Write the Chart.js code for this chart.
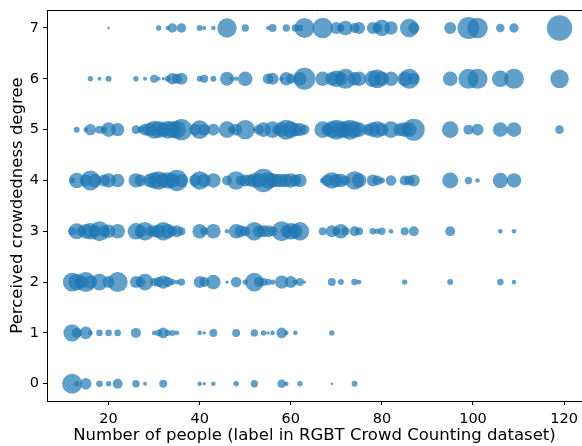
<!DOCTYPE html>
<html>
<head>
<meta charset="utf-8">
<script src="https://cdn.jsdelivr.net/npm/chart.js@4/dist/chart.umd.min.js"></script>
<style>
  body { margin: 0; background: #fff; }
  canvas { display: block; }
</style>
</head>
<body>
<canvas id="crowdChart" width="582" height="446"></canvas>
<script>
// Nivel de aglomeracion percibido (eje y)
const degrees = [0, 1, 2, 3, 4, 5, 6, 7];

// Numero de personas por cada nivel (una lista por nivel)
const people = [
    [12, 13, 15, 18, 20, 22, 26, 28, 32, 40, 41, 43, 48, 52, 58, 59, 62, 69, 74],
    [12, 13, 15, 16, 18, 20, 22, 26, 30, 31, 32, 33, 34, 35, 40, 41, 43, 48, 52, 54, 55, 56, 58, 59, 61, 69],
    [12, 13, 14, 15, 16, 18, 20, 22, 26, 27, 28, 30, 31, 32, 33, 34, 35, 36, 40, 41, 43, 46, 48, 50, 52, 53, 54, 55, 56, 58, 60, 61, 62, 63, 69, 71, 74, 75, 85, 95, 106, 109],
    [12, 13, 14, 15, 16, 17, 18, 19, 20, 22, 26, 27, 28, 29, 30, 31, 32, 33, 34, 35, 36, 40, 41, 43, 46, 48, 49, 50, 52, 53, 54, 55, 56, 58, 59, 60, 61, 62, 67, 69, 70, 71, 72, 74, 75, 78, 79, 80, 82, 85, 87, 95, 106, 109],
    [12, 13, 15, 16, 17, 19, 20, 22, 26, 27, 29, 30, 31, 32, 33, 34, 35, 36, 39, 40, 41, 43, 46, 48, 49, 50, 51, 52, 53, 54, 55, 56, 57, 58, 59, 60, 61, 62, 67, 68, 69, 70, 71, 72, 74, 75, 78, 79, 80, 82, 85, 86, 87, 95, 99, 101, 106, 109],
    [13, 15, 16, 18, 19, 20, 22, 26, 27, 28, 29, 30, 31, 32, 33, 34, 35, 36, 39, 40, 41, 43, 46, 47, 48, 50, 52, 53, 54, 56, 57, 58, 59, 60, 61, 62, 63, 67, 68, 69, 70, 71, 72, 73, 74, 75, 77, 78, 79, 80, 82, 84, 85, 86, 87, 95, 99, 101, 106, 109, 119],
    [16, 18, 20, 26, 28, 30, 31, 32, 33, 34, 35, 36, 40, 41, 43, 46, 47, 48, 50, 55, 56, 58, 59, 60, 62, 63, 67, 69, 70, 71, 72, 74, 75, 78, 79, 80, 82, 85, 86, 87, 95, 99, 101, 106, 109, 119],
    [20, 31, 33, 34, 36, 40, 41, 43, 46, 50, 55, 56, 59, 61, 62, 63, 67, 70, 71, 72, 74, 75, 78, 79, 80, 82, 86, 87, 95, 99, 101, 106, 109, 119]
];

// Tamano de cada burbuja (radio), mismo orden que people
const sizes = [
    [10, 2.7, 5.7, 3.3, 2.7, 5, 3.7, 2, 4, 2.3, 1.7, 2.3, 2.7, 3.7, 4.3, 2.3, 2.7, 1.3, 3],
    [8.7, 5, 6.3, 2.3, 3.3, 3.3, 3.3, 5, 2.3, 3.3, 5.3, 3, 3, 2.3, 2.3, 1.7, 4, 4, 3.7, 2.7, 1.7, 2.3, 5.3, 2.3, 2.3, 2.7],
    [9.3, 8.3, 6.7, 10, 6.7, 8.3, 6, 10, 6, 5, 8.3, 4, 5, 6.7, 5, 3, 2.3, 3.7, 6, 5, 7.3, 1.7, 5.3, 2.7, 9.3, 5, 4, 3.3, 2.7, 6.7, 6, 2.7, 4, 1.7, 4, 3, 3.3, 2.3, 2.7, 3, 3.3, 2.3],
    [4, 8, 5, 7.3, 8.3, 6, 10, 6, 6.7, 7.3, 8.3, 6, 9.3, 5, 6, 6.7, 9.3, 7.3, 5, 6, 4, 7.3, 4, 7.3, 2.3, 7.3, 6, 5, 9.3, 6, 6, 6, 5, 10, 6, 8.3, 7.3, 9.3, 4, 6, 4, 7.3, 4, 5, 4, 3.3, 2.7, 3.7, 2.3, 4, 5, 5, 2.3, 2.3],
    [3, 7.7, 6, 10, 6.7, 6, 7.3, 6.7, 7.3, 6, 6.7, 8.3, 9.3, 7.3, 8.3, 7.3, 10.7, 6.7, 6, 9.3, 6.7, 7.3, 5, 9.3, 5, 6, 6, 7.3, 7.3, 11.7, 8.3, 7.3, 6.7, 6.7, 6.7, 7.3, 6, 6.7, 2.7, 6, 8.3, 6.7, 6.7, 5, 9.3, 7.3, 6, 5, 3, 5.3, 5, 5, 6, 8, 3.7, 2.3, 7.7, 7.3],
    [3, 2.3, 5.7, 4, 3, 7.3, 6.7, 4.3, 3.3, 6, 6.7, 9, 8.3, 7.3, 9, 8.3, 9, 10.7, 6, 9.3, 6, 6, 8.3, 3.7, 6, 9.7, 1.7, 5, 7.3, 8.3, 5, 7.3, 10, 8.3, 6.7, 6.7, 5, 8.3, 6, 8.3, 10, 8.3, 8.3, 10, 8.3, 7.3, 6, 7.3, 8.3, 6.7, 8.3, 6.7, 7.3, 7.3, 11, 8.3, 5, 6, 7.3, 7.3, 4.3],
    [2.7, 2, 3, 2.7, 2, 4, 2, 1.7, 3, 5.7, 5, 6, 3, 4, 3, 7, 2.3, 2.3, 7.3, 5.3, 6, 2.3, 6.7, 5, 6.7, 11, 7.3, 6.7, 8.3, 6.7, 10, 6.7, 7.3, 8.3, 9.3, 7.3, 7.3, 7.3, 10, 6, 7.3, 10, 10, 8.3, 10, 9.3],
    [1.3, 2.7, 2.3, 4.7, 4.7, 3, 2, 2.3, 9.7, 3.7, 2, 4, 3.7, 3.7, 3.3, 10, 10.3, 6, 3.7, 7.3, 5, 6, 6, 5, 8.3, 6.7, 9.3, 5.7, 6, 11, 10.3, 4.3, 4.7, 12.7]
];

// Marcas de los ejes
const xTicks = [20, 40, 60, 80, 100, 120];
const yTicks = [0, 1, 2, 3, 4, 5, 6, 7];

const points = [];
degrees.forEach((d, k) => {
    people[k].forEach((x, i) => {
        points.push({ x: x, y: d, r: sizes[k][i] });
    });
});

// Linea superior del marco (estilo matplotlib)
const topFrame = {
    id: 'topFrame',
    afterDraw(chart) {
        const { ctx, chartArea } = chart;
        ctx.save();
        ctx.strokeStyle = '#000';
        ctx.lineWidth = 1;
        ctx.beginPath();
        ctx.moveTo(chartArea.left, chartArea.top + 0.5);
        ctx.lineTo(chartArea.right, chartArea.top + 0.5);
        ctx.stroke();
        ctx.restore();
    }
};

// quitar el relleno automatico que Chart.js deja para las etiquetas
function noPadding(scale) {
    scale.paddingLeft = 0;
    scale.paddingRight = 0;
    scale.paddingTop = 0;
    scale.paddingBottom = 0;
}

const font = 'DejaVu Sans';

new Chart(document.getElementById('crowdChart'), {
    type: 'bubble',
    data: {
        datasets: [{
            data: points,
            backgroundColor: 'rgba(31, 119, 180, 0.7)',
            borderWidth: 0,
            hoverBorderWidth: 0
        }]
    },
    options: {
        responsive: false,
        animation: false,
        layout: { autoPadding: false, padding: { top: 10, right: 0, left: 0, bottom: 0 } },
        plugins: {
            legend: { display: false },
            tooltip: { enabled: false }
        },
        scales: {
            x: {
                type: 'linear',
                min: 6.48,
                max: 123.93,
                afterFit(scale) { scale.height = 45; noPadding(scale); },
                afterBuildTicks(scale) { scale.ticks = xTicks.map(v => ({ value: v })); },
                grid: { drawOnChartArea: false, tickLength: 4, tickColor: '#000' },
                border: { color: '#000', width: 1 },
                ticks: { color: '#000', font: { family: font, size: 14.5 }, padding: 6, maxRotation: 0 },
                title: {
                    display: true,
                    text: 'Number of people (label in RGBT Crowd Counting dataset)',
                    color: '#000',
                    font: { family: font, size: 16.5 },
                    padding: { top: 0, bottom: 0 }
                }
            },
            y: {
                type: 'linear',
                min: -0.34,
                max: 7.354,
                afterFit(scale) { scale.width = 47; noPadding(scale); },
                afterBuildTicks(scale) { scale.ticks = yTicks.map(v => ({ value: v })); },
                grid: { drawOnChartArea: false, tickLength: 4, tickColor: '#000' },
                border: { color: '#000', width: 1 },
                ticks: { color: '#000', font: { family: font, size: 14.5 }, padding: 4 },
                title: {
                    display: true,
                    text: 'Perceived crowdedness degree',
                    color: '#000',
                    font: { family: font, size: 16.5 },
                    padding: { top: 8, bottom: 0 }
                }
            }
        }
    },
    plugins: [topFrame]
});
</script>
</body>
</html>
